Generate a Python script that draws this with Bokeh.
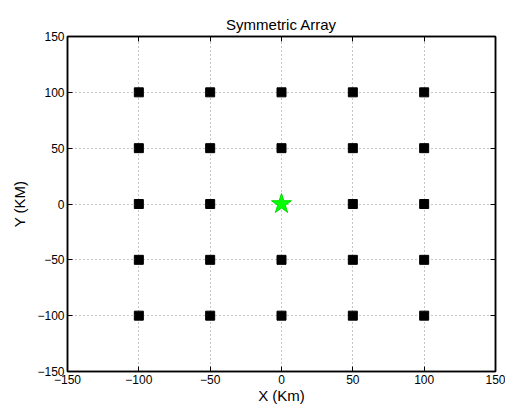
from bokeh.plotting import figure
from bokeh.models import LinearAxis, FixedTicker, Range1d
from bokeh.embed import file_html
from bokeh.resources import INLINE

# data
grid_vals = [-100, -50, 0, 50, 100]
sensor_x = [x for y in grid_vals for x in grid_vals if not (x == 0 and y == 0)]
sensor_y = [y for y in grid_vals for x in grid_vals if not (x == 0 and y == 0)]
source_x = [0]
source_y = [0]
tick_vals = [-150, -100, -50, 0, 50, 100, 150]
tick_labels = {v: (str(v).replace("-", "\u2212")) for v in tick_vals}

FONT = "Liberation Sans"

p = figure(width=505, height=406, output_backend="svg", toolbar_location=None,
           x_range=Range1d(-150, 150), y_range=Range1d(-150, 150),
           min_border_left=67, min_border_right=10, min_border_top=36, min_border_bottom=34,
           x_axis_location=None, y_axis_location=None)
p.title.text = "Symmetric Array"
p.title.align = "center"
p.title.text_font = FONT
p.title.text_font_size = "15px"
p.title.text_font_style = "normal"
p.title.text_color = "black"
p.title.offset = 0
p.title.standoff = 7
p.background_fill_color = "white"
p.border_fill_color = "white"
p.outline_line_color = "black"
p.outline_line_width = 1.5

def style(ax, labels=True):
    ax.ticker = FixedTicker(ticks=tick_vals)
    ax.major_label_overrides = tick_labels
    ax.major_tick_in = 5
    ax.major_tick_out = 0
    ax.minor_tick_in = 0
    ax.minor_tick_out = 0
    ax.axis_line_color = "black"
    ax.axis_line_width = 1.5
    ax.major_tick_line_color = "black"
    ax.major_label_text_font = FONT
    ax.major_label_text_font_size = "12px"
    ax.major_label_text_color = "black"
    ax.major_label_standoff = 3
    ax.axis_label_text_font = FONT
    ax.axis_label_text_font_size = "15px"
    ax.axis_label_text_font_style = "normal"
    ax.axis_label_text_color = "black"
    ax.axis_label_standoff = 0
    if not labels:
        ax.major_label_text_font_size = "0px"
        ax.major_label_text_color = None
        ax.major_label_standoff = 0

xb = LinearAxis(axis_label="X (Km)")
style(xb)
yl = LinearAxis(axis_label="Y (KM)")
style(yl)
yl.axis_label_standoff = 6
xt = LinearAxis()
style(xt, labels=False)
yr = LinearAxis()
style(yr, labels=False)
p.add_layout(xb, "below")
p.add_layout(yl, "left")
p.add_layout(xt, "above")
p.add_layout(yr, "right")

p.xgrid.ticker = FixedTicker(ticks=tick_vals)
p.ygrid.ticker = FixedTicker(ticks=tick_vals)
for g in (p.xgrid, p.ygrid):
    g.grid_line_color = "black"
    g.grid_line_alpha = 0.45
    g.grid_line_dash = "1 3"
    g.grid_line_width = 1

p.scatter(sensor_x, sensor_y, marker="square", size=9, fill_color="black", line_color="black")
p.scatter(source_x, source_y, marker="star", size=21, fill_color="#00ff00", line_color="#00dd00")

open("out.html", "w").write(file_html(p, INLINE))
